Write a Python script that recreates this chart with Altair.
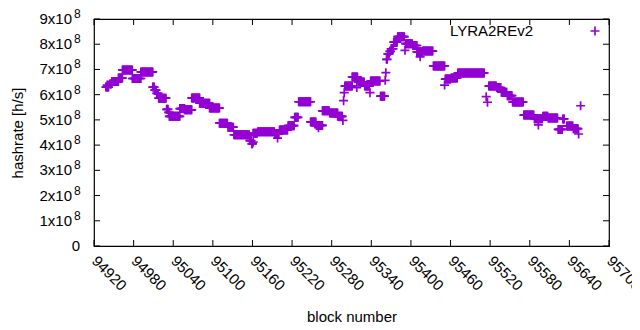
import altair as alt
import pandas as pd

# Runs of constant hashrate (start block, end block, value in units of 1e8 h/s)
run_start = [94938, 94940, 94944, 94947, 94957, 94963, 94978, 94991, 95009, 95012, 95015,
             95018, 95030, 95033, 95034, 95050, 95057, 95068, 95080, 95095, 95110, 95123,
             95132, 95156, 95159, 95161, 95161, 95168, 95194, 95198, 95201, 95214, 95224,
             95230, 95248, 95257, 95260, 95266, 95277, 95289, 95297, 95298, 95299, 95300,
             95311, 95318, 95320, 95330, 95338, 95339, 95354, 95361, 95362, 95363, 95365,
             95368, 95370, 95374, 95380, 95391, 95392, 95403, 95409, 95414, 95418, 95434,
             95451, 95452, 95461, 95471, 95514, 95516, 95518, 95530, 95537, 95546, 95554,
             95571, 95587, 95593, 95600, 95608, 95623, 95630, 95636, 95646, 95654, 95657]
run_end = [94942, 94940, 94946, 94957, 94963, 94978, 94991, 95009, 95011, 95014, 95017,
           95029, 95032, 95034, 95050, 95057, 95068, 95080, 95095, 95110, 95122, 95131,
           95155, 95158, 95160, 95161, 95167, 95193, 95200, 95198, 95213, 95223, 95229,
           95248, 95256, 95266, 95260, 95276, 95289, 95296, 95297, 95298, 95299, 95311,
           95319, 95318, 95329, 95337, 95338, 95353, 95360, 95361, 95362, 95364, 95367,
           95369, 95373, 95379, 95390, 95391, 95402, 95409, 95417, 95414, 95433, 95451,
           95451, 95460, 95470, 95511, 95514, 95516, 95529, 95536, 95545, 95553, 95570,
           95586, 95599, 95593, 95607, 95622, 95629, 95632, 95645, 95653, 95654, 95657]
run_value = [6.30, 6.38, 6.42, 6.52, 6.66, 6.98, 6.64, 6.90, 6.30, 6.18, 6.05,
             5.86, 5.42, 5.30, 5.14, 5.45, 5.40, 5.87, 5.66, 5.47, 4.87, 4.71,
             4.41, 4.18, 4.05, 4.12, 4.47, 4.53, 4.44, 4.28, 4.60, 4.77, 5.10,
             5.72, 4.92, 4.78, 4.69, 5.36, 5.27, 5.14, 4.98, 5.76, 6.08, 6.34,
             6.70, 6.28, 6.50, 6.34, 6.08, 6.54, 5.94, 6.57, 6.87, 7.40, 7.62,
             7.72, 7.82, 8.08, 8.30, 7.76, 8.02, 7.95, 7.70, 7.50, 7.73, 7.14,
             6.38, 6.62, 6.66, 6.86, 5.92, 5.70, 6.34, 6.28, 6.10, 5.96, 5.71,
             5.19, 5.05, 4.80, 5.14, 5.07, 4.62, 5.04, 4.76, 4.65, 4.44, 5.56]

x_ticks = [94920 + 60 * i for i in range(14)]
y_ticks = [i * 1e8 for i in range(10)]
y_mant = ["0"] + [f"{i}x10" for i in range(1, 10)]
series_name = "LYRA2REv2"

blocks, rates = [], []
for s, e, v in zip(run_start, run_end, run_value):
    for b in range(s, e + 1):
        blocks.append(b)
        rates.append(v * 1e8)
df = pd.DataFrame({"block": blocks, "hashrate": rates})

W, H = 515, 227
PURPLE = "#9400d3"
FONT = "Liberation Sans"
FS = 15
PLUS = "M-1,0L1,0M0,-1L0,1"

xscale = alt.Scale(domain=[94920, 95700], nice=False, zero=False)
yscale = alt.Scale(domain=[0, 9e8], nice=False)

x_axis = alt.Axis(values=x_ticks, format="d", grid=False, ticks=False, domain=False,
                  labelAngle=45, labelAlign="left", labelBaseline="middle",
                  labelPadding=12, labelFont=FONT, labelFontSize=FS, labelColor="black",
                  labelOverlap=False, labelFlush=False, labelBound=False,
                  title="block number", titleFont=FONT, titleFontSize=FS,
                  titleFontWeight="normal", titleColor="black",
                  titleY=70, titleBaseline="middle")
y_axis = alt.Axis(values=y_ticks, grid=False, ticks=False, domain=False, labels=False,
                  title="hashrate [h/s]", titleFont=FONT, titleFontSize=FS,
                  titleFontWeight="normal", titleColor="black",
                  titleX=-77, titleY=H / 2, titleAngle=-90,
                  titleAlign="center", titleBaseline="middle")


def X():
    return alt.X("block:Q", scale=xscale, axis=x_axis, title="block number")


def Y():
    return alt.Y("hashrate:Q", scale=yscale, axis=y_axis, title="hashrate [h/s]")


points = alt.Chart(df).mark_point(
    shape=PLUS, filled=False, size=81, strokeWidth=1.7, color=PURPLE, opacity=1
).encode(x=X(), y=Y())

xt = pd.DataFrame({"block": x_ticks})
yt = pd.DataFrame({"hashrate": y_ticks, "mant": y_mant})

tick_style = dict(color="black", strokeWidth=1)
xt_bottom = alt.Chart(xt).mark_rule(**tick_style).encode(
    x=X(), y=alt.value(H), y2=alt.value(H - 6))
xt_top = alt.Chart(xt).mark_rule(**tick_style).encode(
    x=X(), y=alt.value(0), y2=alt.value(6))
yt_left = alt.Chart(yt).mark_rule(**tick_style).encode(
    y=Y(), x=alt.value(0), x2=alt.value(6))
yt_right = alt.Chart(yt).mark_rule(**tick_style).encode(
    y=Y(), x=alt.value(W), x2=alt.value(W - 6))

ylab = alt.Chart(yt).transform_filter("datum.hashrate > 0").mark_text(
    align="right", baseline="middle", font=FONT, fontSize=FS, color="black"
).encode(y=Y(), x=alt.value(-22), text="mant:N")
ysup = alt.Chart(yt).transform_filter("datum.hashrate > 0").mark_text(
    align="left", baseline="middle", font=FONT, fontSize=FS - 3, color="black", dy=-5
).encode(y=Y(), x=alt.value(-20), text=alt.value("8"))
yzero = alt.Chart(yt).transform_filter("datum.hashrate == 0").mark_text(
    align="right", baseline="middle", font=FONT, fontSize=FS, color="black"
).encode(y=Y(), x=alt.value(-14), text="mant:N")

leg = pd.DataFrame({"name": [series_name]})
leg_text = alt.Chart(leg).mark_text(
    align="right", baseline="middle", font=FONT, fontSize=FS, color="black"
).encode(x=alt.value(439), y=alt.value(12), text="name:N")
leg_pt = alt.Chart(leg).mark_point(
    shape=PLUS, filled=False, size=81, strokeWidth=1.7, color=PURPLE, opacity=1
).encode(x=alt.value(501), y=alt.value(12))

chart = alt.layer(
    points, xt_bottom, xt_top, yt_left, yt_right, ylab, ysup, yzero, leg_text, leg_pt
).properties(
    width=W, height=H,
    autosize=alt.AutoSizeParams(type="none"),
    padding={"left": 86, "top": 11, "right": 23, "bottom": 84},
    background="white",
).configure_axis(labelOverlap=False).configure_view(stroke="black", strokeWidth=1.2)

chart.save("out.html", embed_options={"renderer": "svg", "actions": False})
